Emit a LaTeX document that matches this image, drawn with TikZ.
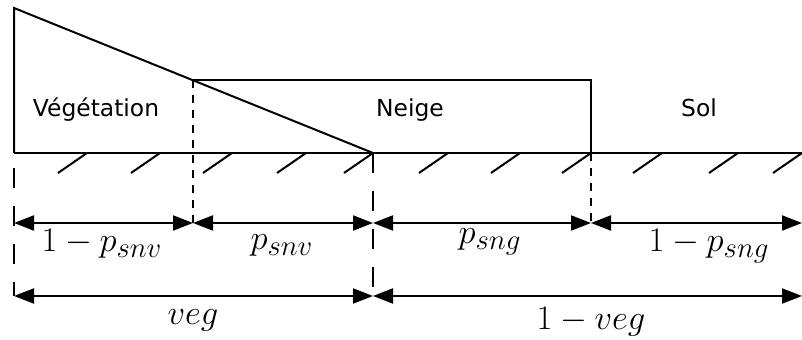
\documentclass[tikz,border=0pt]{standalone}
\usepackage{amsmath}
\usepackage{fontspec}
\newfontfamily\labelfont{DejaVu Sans}
\usepackage{tikz}
\usetikzlibrary{arrows.meta}

\begin{document}
\begin{tikzpicture}[x=0.5pt, y=-0.5pt,
	outline/.style={line width=1pt},
	guide/.style={line width=1pt, dash pattern=on 4pt off 3.5pt},
	longguide/.style={line width=1pt, dash pattern=on 10pt off 9pt},
	dim/.style={line width=1pt, {Triangle[length=10pt,width=7.5pt]}-{Triangle[length=10pt,width=7.5pt]}},
	zone/.style={font=\labelfont\fontsize{11.7}{14}\selectfont, anchor=base},
	frac/.style={font=\fontsize{19}{23}\selectfont, anchor=base}]
	\useasboundingbox (0,0) rectangle (802,340);

	% Key points
	\coordinate (vegtop) at (14,8);
	\coordinate (snowleft) at (193,80);
	\coordinate (snowright) at (591,80);
	\coordinate (g0) at (14,153);
	\coordinate (gveg) at (373,153);
	\coordinate (gsnow) at (591,153);
	\coordinate (gend) at (802,153);
	%Row of partial fractions
	\coordinate (a0) at (14,223);
	\coordinate (a1) at (193,223);
	\coordinate (a2) at (373,223);
	\coordinate (a3) at (591,223);
	\coordinate (a4) at (802,223);
	%Row of vegetation fraction
	\coordinate (b0) at (14,296);
	\coordinate (b1) at (373,296);
	\coordinate (b2) at (802,296);

	% Draw ground and hatching
	\draw[outline] (g0) -- (gend);
	\foreach \x in {87,160,232,306,373,448,520,591,662,738,802}
		\draw[outline] (\x,153) -- ++(-29,20);

	% Vegetation triangle and snow layer
	\draw[outline] (g0) -- (vegtop) -- (gveg);
	\draw[outline] (snowleft) -- (snowright) -- (gsnow);

	% Guide lines
	\draw[longguide, dash phase=11.5pt] (g0) -- (b0);
	\draw[guide] (snowleft) -- (a1);
	\draw[longguide] (gveg) -- (b1);
	\draw[guide] (gsnow) -- (a3);

	% Dimension arrows
	\draw[dim] (a0) -- (a1);
	\draw[dim] (a1) -- (a2);
	\draw[dim] (a2) -- (a3);
	\draw[dim] (a3) -- (a4);
	\draw[dim] (b0) -- (b1);
	\draw[dim] (b1) -- (b2);

	%Add zone labels
	\node[zone] (vegl) at (96,117) {Végétation};
	\node[zone] (neigel) at (410,117) {Neige};
	\node[zone] (soll) at (699,117) {Sol};

	%Add fraction labels
	\node[frac] (psnvbar) at (102,252) {$1-p_{snv}$};
	\node[frac] (psnv) at (282,250) {$p_{snv}$};
	\node[frac] (psng) at (490,244) {$p_{sng}$};
	\node[frac] (psngbar) at (709,252) {$1-p_{sng}$};
	\node[frac] (vegf) at (193,325) {$veg$};
	\node[frac] (vegbar) at (591,330) {$1-veg$};

\end{tikzpicture}
\end{document}
